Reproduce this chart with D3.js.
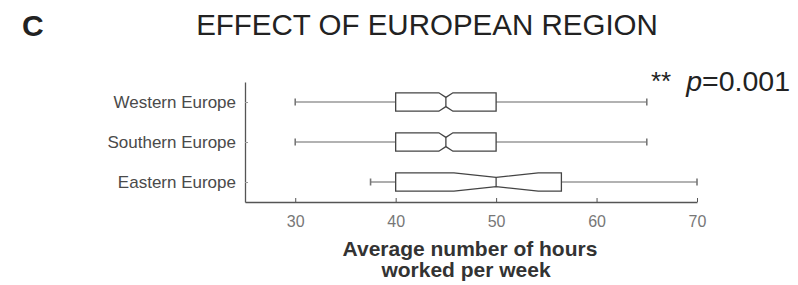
<!DOCTYPE html>
<html>
<head>
<meta charset="utf-8">
<script src="https://cdn.jsdelivr.net/npm/d3@7"></script>
<style>
  body { margin: 0; background: #fff; }
  text { font-family: Arial, "Liberation Sans", sans-serif; }
</style>
</head>
<body>
<div id="chart"></div>
<script>
// data
const regions = ["Western Europe", "Southern Europe", "Eastern Europe"];
const whiskerLo = [30, 30, 37.5];
const q1 = [40, 40, 40];
const medians = [45, 45, 50];
const q3 = [50, 50, 56.5];
const whiskerHi = [65, 65, 70];
const notchLo = [44.3, 44.3, 45.8];
const notchHi = [45.7, 45.7, 54.2];
const xTicks = [30, 40, 50, 60, 70];

const width = 798, height = 285;

const svg = d3.select("#chart").append("svg")
    .attr("width", width)
    .attr("height", height);

// scales
const x = d3.scaleLinear().domain([25, 70]).range([245, 697]);
const y = d3.scalePoint().domain(regions).range([82, 202]).padding(0.5);

const boxes = regions.map((r, i) => ({
    region: r, lo: whiskerLo[i], q1: q1[i], med: medians[i],
    q3: q3[i], hi: whiskerHi[i], nLo: notchLo[i], nHi: notchHi[i]
}));

// x axis - ticks pointing inward
const xAxis = svg.append("g")
    .attr("transform", `translate(0,${y.range()[1]})`)
    .call(d3.axisBottom(x).tickValues(xTicks).tickSizeInner(-4).tickSizeOuter(0).tickPadding(8));
xAxis.select(".domain").attr("stroke", "#555").attr("stroke-width", 1.3);
xAxis.selectAll(".tick line").attr("stroke", "#555");
xAxis.selectAll(".tick text")
    .attr("font-size", 16).attr("fill", "#777")
    .attr("font-family", "Arial, 'Liberation Sans', sans-serif")
    .attr("dy", "1.05em");

// y axis
const yAxis = svg.append("g")
    .attr("transform", `translate(${x.range()[0]},0)`)
    .call(d3.axisLeft(y).tickSizeInner(-3).tickSizeOuter(0).tickPadding(9));
yAxis.select(".domain").attr("stroke", "#555").attr("stroke-width", 1.3);
yAxis.selectAll(".tick line").attr("stroke", "#999");
yAxis.selectAll(".tick text")
    .attr("font-size", 17).attr("fill", "#4a4a4a")
    .attr("font-family", "Arial, 'Liberation Sans', sans-serif");

const half = 9.2;   // half box height
const pinch = 4.6;  // half height at the notch
const cap = 3.5;

const g = svg.append("g").selectAll("g").data(boxes).join("g");

// whiskers
g.append("line")
    .attr("x1", d => x(d.lo)).attr("x2", d => x(d.q1))
    .attr("y1", d => y(d.region)).attr("y2", d => y(d.region))
    .attr("stroke", "#999").attr("stroke-width", 1.6);
g.append("line")
    .attr("x1", d => x(d.q3)).attr("x2", d => x(d.hi))
    .attr("y1", d => y(d.region)).attr("y2", d => y(d.region))
    .attr("stroke", "#999").attr("stroke-width", 1.6);
// caps
g.selectAll(".cap").data(d => [[d.lo, d.region], [d.hi, d.region]]).join("line")
    .attr("class", "cap")
    .attr("x1", d => x(d[0])).attr("x2", d => x(d[0]))
    .attr("y1", d => y(d[1]) - cap).attr("y2", d => y(d[1]) + cap)
    .attr("stroke", "#777").attr("stroke-width", 1.6);

// notched box
g.append("path")
    .attr("d", d => {
        const c = y(d.region);
        const pts = [
            [x(d.q1), c - half], [x(d.nLo), c - half], [x(d.med), c - pinch],
            [x(d.nHi), c - half], [x(d.q3), c - half], [x(d.q3), c + half],
            [x(d.nHi), c + half], [x(d.med), c + pinch], [x(d.nLo), c + half],
            [x(d.q1), c + half]
        ];
        return d3.line()(pts) + "Z";
    })
    .attr("fill", "none").attr("stroke", "#444").attr("stroke-width", 1.3);

// median
g.append("line")
    .attr("x1", d => x(d.med)).attr("x2", d => x(d.med))
    .attr("y1", d => y(d.region) - pinch).attr("y2", d => y(d.region) + pinch)
    .attr("stroke", "#444").attr("stroke-width", 1.3);

// axis title
const xt = svg.append("text")
    .attr("text-anchor", "middle")
    .attr("font-size", 21).attr("font-weight", "bold").attr("fill", "#333");
xt.append("tspan").attr("x", 470).attr("y", 256).text("Average number of hours");
xt.append("tspan").attr("x", 466).attr("y", 277).text("worked per week");

// chart title and panel letter
svg.append("text")
    .attr("x", 427).attr("y", 35)
    .attr("text-anchor", "middle")
    .attr("font-size", 29.5).attr("fill", "#222")
    .text("EFFECT OF EUROPEAN REGION");

svg.append("text")
    .attr("x", 22).attr("y", 36)
    .attr("font-size", 30).attr("font-weight", "bold").attr("fill", "#222")
    .text("C");

// significance
svg.append("text")
    .attr("x", 651).attr("y", 90)
    .attr("font-size", 26).attr("fill", "#222")
    .text("**");
const pt = svg.append("text")
    .attr("x", 790).attr("y", 91)
    .attr("text-anchor", "end")
    .attr("font-size", 28.5).attr("fill", "#222");
pt.append("tspan").attr("font-style", "italic").text("p");
pt.append("tspan").text("=0.001");
</script>
</body>
</html>
